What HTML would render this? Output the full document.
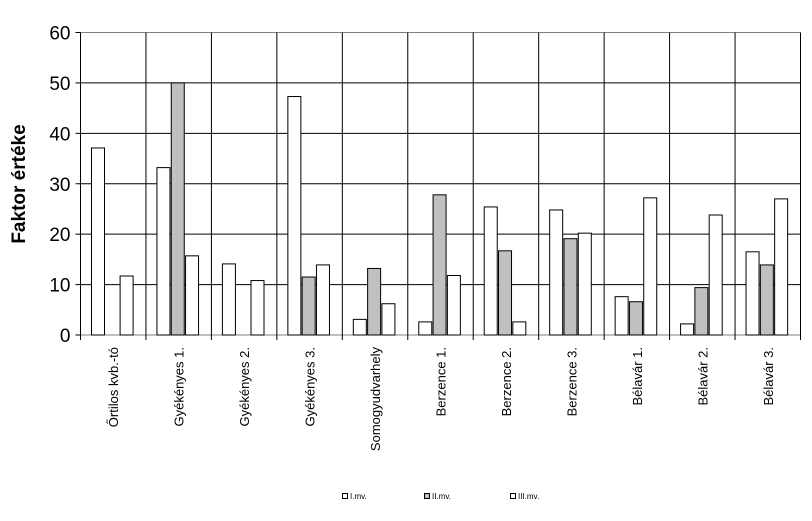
<!DOCTYPE html>
<html><head><meta charset="utf-8"><style>
body{margin:0;background:#fff;width:812px;height:516px;overflow:hidden}
svg text{font-family:"Liberation Sans",Arial,sans-serif}
</style></head><body>
<svg id="c" width="812" height="516"></svg>
<script>
const categories=["Őrtilos kvb.-tó","Gyékényes 1.","Gyékényes 2.","Gyékényes 3.","Somogyudvarhely","Berzence 1.","Berzence 2.","Berzence 3.","Bélavár 1.","Bélavár 2.","Bélavár 3."];
const seriesI=[37.1,33.2,14.1,47.3,3.1,2.6,25.4,24.8,7.6,2.2,16.5];
const seriesII=[0,50,0,11.5,13.2,27.8,16.7,19.1,6.6,9.4,13.9];
const seriesIII=[11.7,15.7,10.8,13.9,6.2,11.8,2.6,20.2,27.2,23.8,27];
const seriesNames=["I.mv.","II.mv.","III.mv."];
const yTicks=[0,10,20,30,40,50,60];
const NS="http://www.w3.org/2000/svg";
const svg=document.getElementById('c');
const L=80.5,R=800.5,T=32.5,B=335;
const y=v=>B-(v/60)*(B-T);
const cw=(R-L)/categories.length;
const x=i=>L+i*cw;
function mk(t,a,p){const e=document.createElementNS(NS,t);for(const k in a)e.setAttribute(k,a[k]);(p||svg).appendChild(e);return e;}
// gridlines
yTicks.forEach(v=>{
 const g=mk('line',{x1:L,x2:R,y1:y(v),y2:y(v),stroke:v==60||v==0?'#808080':'#000','stroke-width':1});
 
 
 const tl=mk('line',{x1:L-5,x2:L,y1:y(v),y2:y(v),stroke:'#000'});
 
 
 const t=mk('text',{x:L-10,y:y(v)+7,'text-anchor':'end','font-size':19});
 t.textContent=v;
 
 
});
for(let i=0;i<=categories.length;i++){
 const l=mk('line',{x1:x(i),x2:x(i),y1:T,y2:B+5,stroke:'#000'});
 
 
}
const ax=mk('line',{x1:L,x2:L,y1:T,y2:B,stroke:'#000'});


const series=[seriesI,seriesII,seriesIII];
const fills=['#fff','#c0c0c0','#fff'];
const bw=14.3,off=11;
categories.forEach((c,i)=>{
 series.forEach((s,j)=>{
  const v=s[i];
  const r=mk('rect',{x:x(i)+off+j*bw,y:y(v),width:bw-1.3,height:B-y(v),fill:fills[j],stroke:'#000','stroke-width':1});
  
  
 });
 const cx=x(i)+cw/2+5;
 const t=mk('text',{x:0,y:0,'text-anchor':'end','font-size':13,transform:`translate(${cx},347) rotate(-90)`});
 t.textContent=c;
 
 
});
const yt=mk('text',{x:0,y:0,'text-anchor':'middle','font-size':19,'font-weight':'bold',transform:'translate(25,184) rotate(-90)'});
yt.textContent='Faktor értéke';


const lx=[342,424,510];
seriesNames.forEach((n,j)=>{
 const g=mk('g',{});
 
 
 mk('rect',{x:lx[j]+0.5,y:493.5,width:5,height:5,fill:fills[j],stroke:'#000','stroke-width':1},g);
 const t=mk('text',{x:lx[j]+8,y:499,'font-size':8},g);
 t.textContent=n;
});
</script>
</body></html>
